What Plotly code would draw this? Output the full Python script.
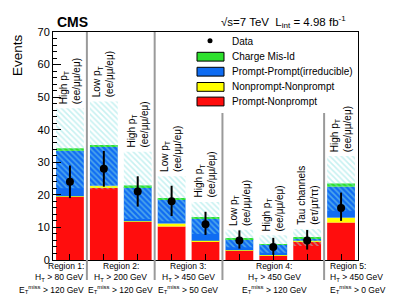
import numpy as np
import plotly.graph_objects as go

# ---------------- data ----------------
categories = ["R1 High pT", "R2 Low pT", "R2 High pT", "R3 Low pT", "R3 High pT",
              "R4 Low pT", "R4 High pT", "R4 Tau", "R5 High pT"]
bar_label_line1 = ["High p<sub>T</sub>", "Low p<sub>T</sub>", "High p<sub>T</sub>", "Low p<sub>T</sub>",
                   "High p<sub>T</sub>", "Low p<sub>T</sub>", "High p<sub>T</sub>", "Tau channels",
                   "High p<sub>T</sub>"]
bar_label_line2 = ["(ee/μμ/eμ)"] * 7 + ["(eτ/μτ/ττ)", "(ee/μμ/eμ)"]

prompt_nonprompt = [19.4, 22.1, 11.7, 10.3, 5.7, 2.9, 1.4, 5.8, 11.5]
nonprompt_nonprompt = [0.2, 0.7, 0.2, 0.9, 0.2, 0.1, 0.1, 0.1, 1.5]
prompt_prompt = [13.9, 12.0, 10.5, 7.4, 6.7, 3.4, 3.2, 0.7, 9.5]
charge_misid = [0.8, 0.4, 0.5, 0.2, 0.3, 0.2, 0.2, 0.3, 1.0]
bkg_uncertainty = [12.3, 13.5, 10.3, 6.9, 4.9, 2.7, 2.7, 2.6, 8.4]

data_counts = [24, 28, 21, 18, 11, 6, 4, 6, 16]
data_err_up = [5.0, 5.5, 4.7, 4.8, 3.8, 3.1, 2.8, 3.2, 4.7]
data_err_down = [5.0, 5.5, 4.6, 4.5, 3.3, 2.5, 2.4, 2.8, 4.0]

region_names = ["Region 1:", "Region 2:", "Region 3:", "Region 4:", "Region 5:"]
region_ht = ["H<sub>T</sub> > 80 GeV", "H<sub>T</sub> > 200 GeV", "H<sub>T</sub> > 450 GeV",
             "H<sub>T</sub> > 450 GeV", "H<sub>T</sub> > 450 GeV"]
region_met = ["E<sub>T</sub><sup>miss</sup> > 120 GeV", "E<sub>T</sub><sup>miss</sup> > 120 GeV",
              "E<sub>T</sub><sup>miss</sup> > 50 GeV", "E<sub>T</sub><sup>miss</sup> > 120 GeV",
              "E<sub>T</sub><sup>miss</sup> > 0 GeV"]

# ---------------- styling / geometry ----------------
W, H = 399, 306
ML, MR, MT, MB = 53, 41, 32, 46
PW, PH = W - ML - MR, H - MT - MB
FONT = "Liberation Sans, Arial, Helvetica, sans-serif"

def px_x(px):
    return (px - ML) / PW

def px_y(py):
    return (H - MB - py) / PH

RED, YEL, BLUE, GREEN = "#ff0d0d", "#ffff00", "#0f6cf2", "#2de02d"
HATCH = "#8fe3e3"
BARW = 0.82

x = list(range(len(categories)))
red = np.array(prompt_nonprompt)
yel = np.array(nonprompt_nonprompt)
blue = np.array(prompt_prompt)
green = np.array(charge_misid)
unc = np.array(bkg_uncertainty)
total = red + yel + blue + green

fig = go.Figure()
stack = [(red, np.zeros_like(red), RED, "Prompt-Nonprompt"),
         (yel, red, YEL, "Nonprompt-Nonprompt"),
         (blue, red + yel, BLUE, "Prompt-Prompt(irreducible)"),
         (green, red + yel + blue, GREEN, "Charge Mis-Id")]
for vals, base, col, name in stack:
    fig.add_trace(go.Bar(x=x, y=vals, base=base, width=BARW, name=name,
                         marker=dict(color=col, line=dict(width=0)), showlegend=False))

fig.add_trace(go.Bar(x=x, y=2 * unc, base=total - unc, width=BARW, name="Bkg. uncertainty",
                     marker=dict(color="rgba(0,0,0,0)", line=dict(width=0),
                                 pattern=dict(shape="\\", fgcolor=HATCH, bgcolor="rgba(0,0,0,0)",
                                              size=4, solidity=0.4, fillmode="overlay")),
                     showlegend=False))

fig.add_trace(go.Scatter(x=x, y=data_counts, mode="markers", name="Data",
                         marker=dict(color="black", size=8),
                         error_y=dict(type="data", symmetric=False, array=data_err_up,
                                      arrayminus=data_err_down, color="black",
                                      thickness=2, width=0),
                         showlegend=False))

shapes = []
# region separators
for xs, ytop in [(0.5, MT), (2.5, MT), (4.5, 113), (7.5, 113)]:
    xp = (xs + 0.5) / len(categories)
    shapes.append(dict(type="line", xref="paper", yref="paper", x0=xp, x1=xp,
                       y0=px_y(ytop), y1=px_y(280), line=dict(color="#9a9a9a", width=2)))

annotations = []
# bar labels (rotated)
for i in x:
    annotations.append(dict(x=i, y=total[i] + unc[i], xref="x", yref="y", showarrow=False,
                            text=bar_label_line1[i] + "<br>" + bar_label_line2[i],
                            textangle=-90, xanchor="center", yanchor="bottom", yshift=2,
                            align="left", font=dict(family=FONT, size=10, color="black")))

# region labels under the axis
region_pos = [(85.5, "right"), (120.5, "center"), (188, "center"), (274, "center"), (328, "left")]
for k, (pxx, anc) in enumerate(region_pos):
    for j, (txt, pyy) in enumerate([(region_names[k], 266), (region_ht[k], 277.5), (region_met[k], 289)]):
        annotations.append(dict(x=px_x(pxx), y=px_y(pyy), xref="paper", yref="paper",
                                showarrow=False, text=txt, xanchor=anc, yanchor="middle",
                                font=dict(family=FONT, size=8.5, color="black")))

# legend (manual)
leg_items = [("Charge Mis-Id", GREEN, 56.7), ("Prompt-Prompt(irreducible)", BLUE, 71.7),
             ("Nonprompt-Nonprompt", YEL, 86.9), ("Prompt-Nonprompt", RED, 101.5)]
shapes.append(dict(type="circle", xref="paper", yref="paper",
                   x0=px_x(207.5), x1=px_x(212.5), y0=px_y(43.2), y1=px_y(38.2),
                   fillcolor="black", line=dict(color="black", width=0)))
annotations.append(dict(x=px_x(230), y=px_y(41), xref="paper", yref="paper", showarrow=False,
                        text="Data", xanchor="left", yanchor="middle",
                        font=dict(family=FONT, size=10, color="black")))
for txt, col, yc in leg_items:
    shapes.append(dict(type="rect", xref="paper", yref="paper",
                       x0=px_x(197), x1=px_x(224), y0=px_y(yc + 4.4), y1=px_y(yc - 4.4),
                       fillcolor=col, line=dict(color="black", width=1)))
    annotations.append(dict(x=px_x(230), y=px_y(yc), xref="paper", yref="paper", showarrow=False,
                            text=txt, xanchor="left", yanchor="middle",
                            font=dict(family=FONT, size=10, color="black")))

# headers
annotations.append(dict(x=px_x(55), y=px_y(22), xref="paper", yref="paper", showarrow=False,
                        text="<b>CMS</b>", xanchor="left", yanchor="middle",
                        font=dict(family=FONT, size=14, color="black")))
annotations.append(dict(x=px_x(219), y=px_y(22), xref="paper", yref="paper", showarrow=False,
                        text="√s=7 TeV&nbsp;&nbsp;L<sub>int</sub> = 4.98 fb<sup>-1</sup>",
                        xanchor="left", yanchor="middle",
                        font=dict(family=FONT, size=11.5, color="black")))
annotations.append(dict(x=px_x(17), y=1, xref="paper", yref="paper", showarrow=False,
                        text="Events", textangle=-90, xanchor="center", yanchor="top",
                        font=dict(family=FONT, size=13.5, color="black")))

fig.update_layout(
    width=W, height=H, margin=dict(l=ML, r=MR, t=MT, b=MB, pad=0),
    paper_bgcolor="white", plot_bgcolor="white",
    barmode="overlay", showlegend=False,
    font=dict(family=FONT, color="black"),
    shapes=shapes, annotations=annotations,
    xaxis=dict(range=[-0.5, len(categories) - 0.5], showline=True, linecolor="black",
               linewidth=1, mirror=True, ticks="inside", tickvals=x, ticklen=6,
               tickcolor="black", showticklabels=False, showgrid=False, zeroline=False),
    yaxis=dict(range=[0, 70], showline=True, linecolor="black", linewidth=1, mirror=True,
               ticks="inside", dtick=10, ticklen=8, tickcolor="black",
               tickfont=dict(family=FONT, size=11, color="black"),
               minor=dict(dtick=2, ticks="inside", ticklen=4, tickcolor="black"),
               showgrid=False, zeroline=False),
)

fig.write_html("out.html", config={"displayModeBar": False},
               post_script="document.body.style.margin='0';document.body.style.overflow='hidden';")
